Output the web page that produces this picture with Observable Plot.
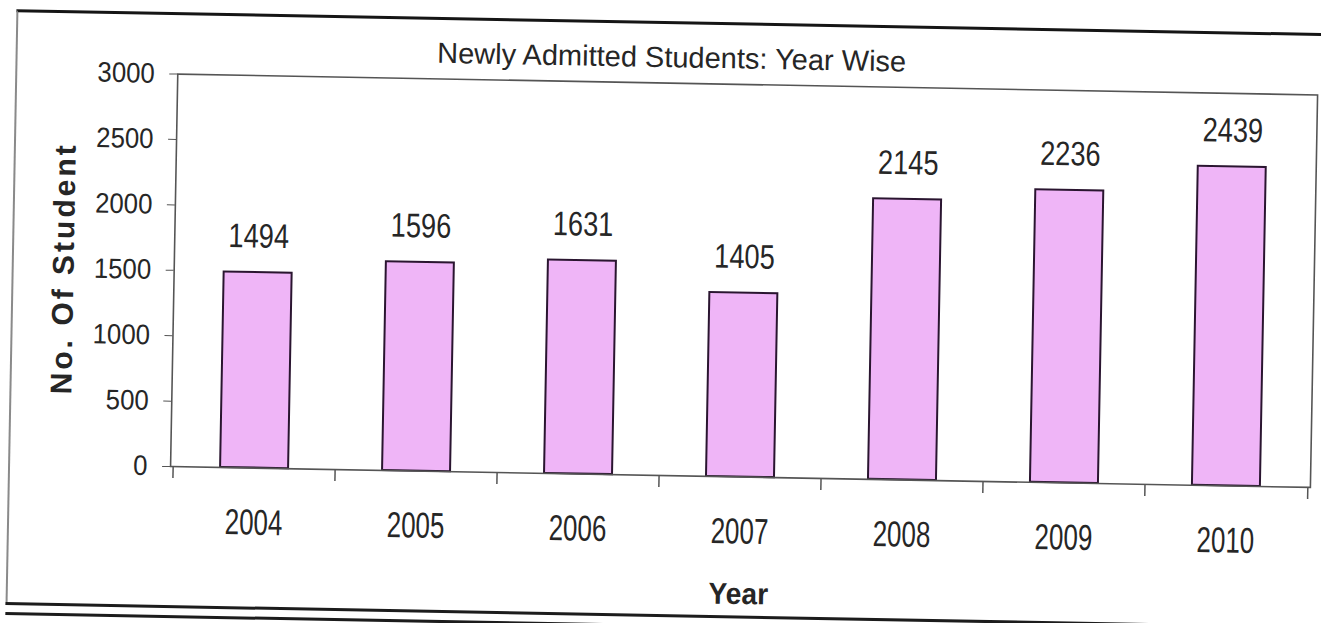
<!DOCTYPE html>
<html>
<head>
<meta charset="utf-8">
<script src="https://cdn.jsdelivr.net/npm/d3@7"></script>
<script src="https://cdn.jsdelivr.net/npm/@observablehq/plot@0.6"></script>
<style>
  html, body { margin: 0; padding: 0; background: #fff; overflow: hidden; }
  #page { position: relative; width: 1321px; height: 623px; overflow: hidden; background: #fff; }
  #wrap { position: absolute; left: 0; top: 0; width: 1321px; height: 623px;
          transform: rotate(1.05deg); transform-origin: 660.5px 311.5px; }
  #box { position: absolute; left: 11px; top: 21px; width: 1340px; height: 593px;
         border-left: 2px solid #8a8a8a; border-top: 3px solid #151515; }
  #bot1 { position: absolute; left: 11px; top: 614px; width: 1340px; height: 0; border-top: 3px solid #1c1c1c; }
  #bot2 { position: absolute; left: 11px; top: 624px; width: 1340px; height: 0; border-top: 3px solid #1c1c1c; }
  #title { position: absolute; left: 0; top: 40px; width: 1334px; text-align: center;
           font-family: "Liberation Sans", Arial, sans-serif; font-size: 29px; color: #262626; line-height: 34px; }
  #chart { position: absolute; left: 0; top: 60px; }
  g[aria-label="y-axis label"] text { font-weight: bold; font-family: "Liberation Sans", Arial, sans-serif; font-size: 30px; letter-spacing: 3px; }
  g[aria-label="x-axis label"] text { font-weight: bold; font-family: "Liberation Sans", Arial, sans-serif; font-size: 30px; }
</style>
</head>
<body>
<div id="page">
  <div id="wrap">
    <div id="box"></div>
    <div id="bot1"></div>
    <div id="bot2"></div>
    <div id="title">Newly Admitted Students: Year Wise</div>
    <div id="chart"></div>
  </div>
</div>
<script>
const years = ["2004", "2005", "2006", "2007", "2008", "2009", "2010"];
const students = [1494, 1596, 1631, 1405, 2145, 2236, 2439];
const yTicks = [0, 500, 1000, 1500, 2000, 2500, 3000];

const data = years.map((y, i) => ({year: y, value: students[i]}));

const W = 1321, H = 563, ML = 173, MR = 8;
const step = (W - ML - MR) / years.length;

const plot = Plot.plot({
  width: W,
  height: H,
  marginLeft: ML,
  marginRight: MR,
  marginTop: 22.5,
  marginBottom: 148,
  style: {fontFamily: '"Liberation Sans", Arial, sans-serif', fontSize: "28px", color: "#262626", background: "transparent"},
  x: {domain: years, paddingInner: 0.583, paddingOuter: 0.2915},
  y: {domain: [0, 3000]},
  marks: [
    Plot.barY(data, {x: "year", y: "value", fill: "#EFB5F7", stroke: "#2a1530", strokeWidth: 2}),
    Plot.text(data, {x: "year", y: "value", text: d => String(d.value), dy: -36, fontSize: 34, fill: "#262626"}),
    Plot.frame({stroke: "#555", strokeWidth: 1.6}),
    Plot.ruleX(years, {x: d => d, y1: 0, y2: 0, insetBottom: -12, dx: -step / 2, stroke: "#555", strokeWidth: 1.5}),
    Plot.ruleX(years.slice(-1), {x: d => d, y1: 0, y2: 0, insetBottom: -12, dx: step / 2, stroke: "#555", strokeWidth: 1.5}),
    Plot.axisY({ticks: yTicks, tickFormat: d => String(d), tickSize: 8, tickPadding: 15, fontSize: 28, stroke: "#555",
                label: "No. Of Student", labelAnchor: "center", labelOffset: 122, labelArrow: "none"}),
    Plot.axisX({tickSize: 0, tickPadding: 41, fontSize: 36, label: "Year", labelAnchor: "center", labelOffset: 127, labelArrow: "none"})
  ]
});
document.getElementById("chart").appendChild(plot);

// condense glyphs horizontally to mimic the narrow typeface of the original
function condense(selector, factor) {
  plot.querySelectorAll(selector).forEach(t => {
    const len = t.getComputedTextLength();
    t.setAttribute("textLength", (len * factor).toFixed(1));
    t.setAttribute("lengthAdjust", "spacingAndGlyphs");
  });
}
condense('g[aria-label="x-axis tick label"] text', 0.72);
condense('g[aria-label="y-axis tick label"] text', 0.92);
condense('g[aria-label="text"] text', 0.8);
condense('g[aria-label="x-axis label"] text', 0.94);
</script>
</body>
</html>
